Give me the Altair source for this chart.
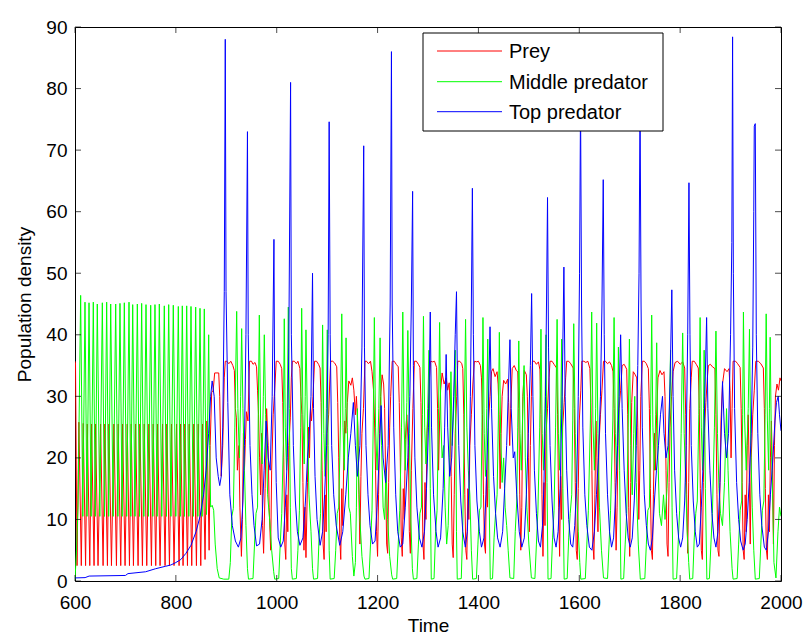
import altair as alt
import pandas as pd

# ---------------------------------------------------------------
# Three-species food chain: population densities versus time.
# Each list holds (time, density) vertices of one series.
# ---------------------------------------------------------------

SERIES_NAMES = ["Prey", "Middle predator", "Top predator"]
SERIES_COLORS = ["#ff0000", "#00ff00", "#0000ff"]
X_TICKS = [600, 800, 1000, 1200, 1400, 1600, 1800, 2000]
Y_TICKS = [0, 10, 20, 30, 40, 50, 60, 70, 80, 90]

prey_early = [
    (600, 35.7), (601, 35.5), (604, 2.5), (607.7, 25.8), (612.5, 2.5), (616.3, 25.6),
    (621, 2.5), (624.3, 25.5), (629.3, 2.5), (632.8, 25.5), (637.8, 2.5), (640.7, 25.5),
    (645.7, 2.5), (650.7, 25.5), (655.7, 2.5), (659.3, 25.5), (664.3, 2.5), (667.3, 25.5),
    (672.3, 2.5), (677.2, 25.5), (682.2, 2.5), (685.7, 25.5), (690.7, 2.5), (694.3, 25.5),
    (699.3, 2.5), (703.6, 25.5), (708.0, 2.5), (711.5, 25.5), (715.9, 2.5), (720.1, 25.5),
    (725.1, 2.5), (728.7, 25.5), (733.7, 2.5), (737.3, 25.5), (742.3, 2.5), (746.6, 25.5),
    (751.6, 2.5), (755.1, 25.5), (760.1, 2.5), (763.7, 25.5), (768.7, 2.5), (773.6, 25.5),
    (778.6, 2.5), (782.3, 25.5), (787.3, 2.5), (791.4, 25.5), (796.4, 2.5), (801.4, 25.5),
    (806.4, 2.5), (809.3, 25.5), (814.3, 2.5), (818.0, 25.5), (823.0, 2.5), (826.5, 25.5),
    (831.5, 2.5), (835.8, 25.5), (840.8, 2.5), (844.4, 25.5), (849.4, 2.5), (852.9, 25.5),
    (857.9, 3.5), (861.6, 26.0), (866, 5.0),
]

prey_late = [
    (868, 22), (871, 30.6), (874, 31.0), (877, 33.8), (885, 33.8), (887, 30), (890, 17),
    (893, 22), (896, 33), (898, 35.7),
    (901, 35.7), (905, 35.3), (909, 35.7), (913, 35.0), (916, 34.2), (918, 28), (920, 26.5),
    (922, 18), (925, 22), (927, 12), (930, 4), (932, 10), (934, 24), (936, 18), (938, 23),
    (940, 27.5), (943, 26), (946, 35.7),
    (950, 35.7), (953, 35.2), (957, 35.5), (960, 34.8), (962, 31), (964, 27), (966, 20),
    (968, 14), (970, 24), (972, 9), (974, 4.5), (977, 15), (980, 28), (983, 22), (985, 12),
    (988, 5), (990, 18), (993, 27), (996, 31), (999, 35.7),
    (1003, 35.7), (1007, 35.2), (1010, 34.5), (1012, 29), (1014, 20), (1016, 6), (1018, 3.5),
    (1020, 14), (1022, 8), (1024, 22), (1027, 26.5), (1029, 33), (1031, 35.7),
    (1035, 35.7), (1039, 35.3), (1042, 35.7), (1046, 34.5), (1048, 30), (1050, 27), (1052, 16),
    (1054, 5), (1056, 12), (1058, 3.8), (1061, 16), (1063, 25), (1065, 20), (1067, 28),
    (1069, 26), (1072, 30), (1075, 35.7),
    (1079, 35.7), (1083, 35.2), (1086, 34.6), (1088, 29), (1090, 18), (1092, 6), (1094, 3.5),
    (1096, 14), (1098, 8), (1100, 24), (1103, 27), (1105, 32), (1107, 35.7),
    (1111, 35.7), (1115, 35.4), (1119, 34.8), (1121, 29), (1123, 20), (1125, 7), (1127, 3.5),
    (1129, 15), (1131, 9), (1133, 20), (1135, 26), (1137, 24), (1140, 29), (1143, 32.5),
    (1147, 31.8), (1150, 33), (1153, 31), (1156, 27), (1158, 30), (1161, 25), (1163, 14),
    (1165, 6), (1167, 17), (1169, 24), (1172, 28), (1175, 35.7),
    (1178, 35.7), (1182, 35.3), (1186, 35.7), (1189, 34), (1192, 31), (1194, 26), (1196, 18),
    (1198, 8), (1200, 4), (1202, 14), (1204, 24), (1206, 30), (1209, 33.5), (1212, 32),
    (1214, 28), (1216, 17), (1218, 6), (1220, 4.5), (1222, 16), (1224, 25), (1226, 30),
    (1229, 35.7),
    (1233, 35.7), (1237, 35.2), (1241, 34.8), (1243, 29), (1245, 20), (1247, 7), (1249, 4),
    (1251, 15), (1253, 10), (1255, 23), (1258, 27), (1261, 22), (1263, 8), (1265, 4.5),
    (1267, 18), (1270, 28), (1273, 35.7),
    (1277, 35.7), (1281, 35.2), (1284, 34.7), (1286, 29), (1288, 18), (1290, 6), (1292, 3.5),
    (1294, 16), (1296, 10), (1298, 24), (1301, 28), (1303, 33), (1305, 35.7),
    (1309, 35.6), (1313, 35.7), (1317, 34.7), (1319, 28), (1321, 18), (1323, 26), (1325, 31),
    (1328, 33.8), (1332, 32), (1336, 33), (1339, 31), (1342, 32.2), (1344, 28), (1346, 17),
    (1348, 6), (1350, 3.8), (1352, 14), (1354, 24), (1357, 30), (1359, 35.7),
    (1363, 35.7), (1367, 35.3), (1369, 34.5), (1371, 27), (1373, 14), (1375, 5), (1377, 3.5),
    (1379, 15), (1381, 10), (1383, 22), (1386, 27), (1389, 32), (1392, 35.7),
    (1396, 35.6), (1400, 35.7), (1404, 35.0), (1406, 33), (1408, 27), (1410, 14), (1412, 6),
    (1414, 4.5), (1416, 18), (1418, 12), (1420, 26), (1423, 30), (1426, 34),
    (1429, 34.5), (1433, 33.2), (1437, 34), (1439, 32), (1441, 27), (1443, 15), (1445, 24),
    (1447, 30), (1450, 32.6), (1454, 32), (1458, 32.8), (1460, 29), (1462, 22), (1464, 28),
    (1467, 34.5),
    (1471, 35), (1475, 34.2), (1478, 34), (1480, 28), (1482, 14), (1484, 5), (1486, 12),
    (1488, 30), (1491, 34.2), (1495, 33.5), (1497, 30), (1499, 20), (1501, 8), (1503, 22),
    (1505, 30), (1507, 35.7),
    (1511, 35.7), (1515, 35.2), (1519, 35.6), (1522, 34.3), (1524, 27), (1526, 14), (1528, 4),
    (1530, 16), (1532, 9), (1534, 24), (1537, 28), (1540, 33), (1542, 35.7),
    (1546, 35.7), (1550, 35.2), (1555, 34.6), (1557, 27), (1559, 12), (1561, 4), (1563, 17),
    (1565, 10), (1567, 25), (1570, 29), (1573, 33), (1575, 35.7),
    (1579, 35.7), (1583, 35.3), (1588, 34.6), (1590, 28), (1592, 16), (1594, 5), (1596, 3.5),
    (1598, 15), (1600, 26), (1603, 31), (1605, 35.7),
    (1609, 35.7), (1613, 35.5), (1617, 35.7), (1621, 34.5), (1623, 29), (1625, 18), (1627, 6),
    (1629, 3.5), (1631, 14), (1633, 26), (1635, 20), (1637, 8), (1639, 22), (1642, 27),
    (1645, 31), (1648, 35.7),
    (1652, 35.7), (1656, 35.3), (1660, 35.6), (1664, 35.0), (1667, 34), (1669, 28), (1671, 16),
    (1673, 5), (1675, 12), (1677, 24), (1679, 28), (1682, 31), (1685, 35),
    (1689, 35.2), (1694, 34.4), (1696, 27), (1698, 12), (1700, 4), (1702, 16), (1704, 29),
    (1707, 34), (1711, 33.5), (1714, 33), (1716, 25), (1718, 10), (1720, 18), (1722, 30),
    (1725, 35.7),
    (1729, 35.7), (1733, 35.3), (1737, 34.5), (1739, 28), (1741, 15), (1743, 5), (1745, 3.5),
    (1747, 14), (1749, 24), (1751, 18), (1753, 26), (1756, 33), (1760, 34.2), (1764, 33.5),
    (1768, 34), (1770, 30), (1772, 18), (1774, 6), (1776, 4), (1778, 16), (1780, 25),
    (1783, 30), (1786, 34), (1790, 35.5),
    (1795, 35.7), (1800, 35.2), (1805, 35.6), (1809, 34.6), (1811, 27), (1813, 14), (1815, 4.5),
    (1817, 16), (1819, 28), (1822, 33), (1824, 35.7),
    (1828, 35.7), (1832, 35.2), (1836, 34.6), (1838, 28), (1840, 15), (1842, 5), (1844, 3.5),
    (1846, 16), (1848, 24), (1851, 29), (1854, 33), (1856, 35),
    (1860, 35.2), (1864, 34.8), (1869, 34.5), (1871, 27), (1873, 14), (1875, 5), (1877, 4),
    (1879, 16), (1881, 26), (1884, 32), (1888, 34.5), (1893, 34), (1897, 34.5), (1899, 31),
    (1901, 20), (1903, 28), (1905, 35.7),
    (1910, 35.7), (1914, 35.3), (1919, 34.7), (1921, 28), (1923, 16), (1925, 5), (1927, 3.5),
    (1929, 14), (1931, 8), (1933, 22), (1935, 27), (1937, 18), (1939, 6), (1941, 20),
    (1944, 27), (1947, 31), (1950, 35.7),
    (1955, 35.7), (1960, 35.3), (1965, 34.6), (1967, 28), (1969, 15), (1971, 5), (1973, 3.5),
    (1975, 14), (1977, 8), (1979, 20), (1981, 26), (1983, 18), (1985, 6), (1987, 22),
    (1989, 30), (1992, 32), (1995, 31), (1998, 33), (2000, 32.5),
]

middle_early = [
    (600, 0.2), (603, 5), (606, 12), (611.2, 46.4), (615.5, 10.5), (619.8, 45.3),
    (623.8, 10.5), (627.8, 45.2), (632, 10.5), (636.3, 45.3), (640.2, 10.5), (644.2, 45.0),
    (649.2, 10.5), (654.2, 45.2), (658.5, 10.5), (662.8, 45.3), (666.8, 10.5), (670.8, 45.0),
    (675.7, 10.5), (680.7, 45.0), (685, 10.5), (689.2, 45.1), (693.5, 10.5), (697.8, 45.2),
    (702.5, 10.5), (707.1, 45.3), (710.7, 10.5), (714.4, 44.9), (719, 10.5), (723.6, 45.0),
    (727.9, 10.5), (732.2, 45.1), (736.5, 10.5), (740.8, 44.9), (745.4, 10.5), (750.1, 44.8),
    (754.3, 10.5), (758.6, 44.9), (762.9, 10.5), (767.2, 45.0), (772.1, 10.5), (777.1, 44.7),
    (781.4, 10.5), (785.8, 44.9), (790.3, 10.5), (794.9, 44.8), (799.9, 10.5), (804.9, 44.6),
    (808.8, 10.5), (812.8, 44.7), (817.1, 10.5), (821.5, 44.7), (825.7, 10.5), (830.0, 44.6),
    (834.6, 10.5), (839.3, 44.5), (843.6, 10.5), (847.9, 44.3), (852.1, 10.5), (856.4, 44.2),
    (860.7, 10.8), (865.1, 40.0),
]

middle_late = [
    (867, 22), (869, 12), (872, 12.3), (875, 11.5), (878, 6), (882, 2), (886, 0.5), (895, 0.3),
    (905, 0.3), (908, 3), (911, 10.5), (914, 11.8), (917, 25), (920.6, 43.8), (923, 28),
    (926, 20), (928.5, 30), (930.5, 41), (933, 28), (936, 18), (939, 9), (942, 2), (944, 0.3),
    (953, 0.4), (956, 6), (959, 11), (962, 12), (963.5, 28), (965.5, 43.2), (968, 26),
    (971, 19), (973.5, 30), (975.4, 40), (978, 27), (982, 14), (986, 10), (990, 5),
    (994, 1.5), (996, 0.3),
    (1004, 0.4), (1007, 6), (1010, 11), (1013, 22), (1015, 42.6), (1017, 25), (1019.5, 18),
    (1021.5, 32), (1023, 44.5), (1025, 28), (1027, 12), (1029, 2), (1031, 0.3),
    (1039, 0.4), (1042, 5), (1045, 11.5), (1047.5, 25), (1049.5, 44.3), (1052, 27),
    (1054.5, 19), (1056.5, 30), (1058, 40.8), (1061, 25), (1064, 14), (1068, 8), (1071, 2),
    (1073, 0.3),
    (1081, 0.4), (1084, 7), (1087, 11), (1089, 24), (1091, 41.6), (1093.5, 24), (1096, 17),
    (1098.5, 28), (1100.3, 40.8), (1102, 22), (1104, 5), (1106, 0.3),
    (1114, 0.4), (1117, 5), (1120, 11), (1123, 12), (1126.5, 26), (1129, 43.4), (1131.5, 25),
    (1134, 18), (1136, 28), (1137.5, 39.5), (1140, 25), (1143, 12), (1146, 11), (1150, 4),
    (1153, 0.8), (1156, 3), (1158, 12), (1160, 28), (1162, 18), (1165, 10), (1169, 4),
    (1173, 0.8), (1175, 0.3),
    (1183, 0.4), (1186, 6), (1189, 11.5), (1191.5, 26), (1193.6, 42.8), (1196, 25), (1199, 18),
    (1202.5, 28), (1205, 39.5), (1208, 22), (1211, 12), (1214, 10), (1217, 18), (1220, 10),
    (1224, 4), (1228, 1), (1230, 0.3),
    (1238, 0.4), (1241, 6), (1244, 11.5), (1247.5, 25), (1250, 43.7), (1252.5, 26), (1255, 18),
    (1258, 29), (1260, 40.7), (1263, 24), (1266, 10), (1269, 2), (1271, 0.3),
    (1278, 0.4), (1281, 6), (1284, 11), (1287, 12), (1289, 27), (1291, 43), (1293.5, 25),
    (1296, 19), (1299.5, 28), (1302, 37.5), (1304.5, 15), (1306.5, 0.3),
    (1312, 0.4), (1315, 8), (1318, 11.5), (1321, 28), (1323, 42), (1325.5, 26), (1328, 20),
    (1331, 22), (1334, 12), (1337, 6), (1340, 9), (1343, 20), (1345.5, 34), (1348, 22),
    (1351, 28), (1354, 37.5), (1356.5, 8), (1358, 0.3),
    (1366, 0.4), (1369, 9), (1372, 26), (1374.5, 42.5), (1377, 25), (1380, 18), (1383, 14),
    (1386, 5), (1388.5, 0.3),
    (1396, 0.4), (1399, 6), (1402, 11.5), (1405, 12), (1407, 25), (1409, 42.8), (1411.5, 24),
    (1414, 17), (1416.5, 28), (1418.5, 39.3), (1421, 15), (1423.5, 0.3),
    (1428, 0.4), (1431, 7), (1434, 11), (1437, 14), (1439.5, 26), (1441.5, 40.4), (1444, 24),
    (1447, 16), (1450, 20), (1453, 12), (1456, 9), (1459, 5), (1462.5, 0.5),
    (1470, 0.4), (1473, 8), (1476, 13), (1478, 25), (1480, 39), (1482.5, 24), (1485, 18),
    (1488, 28), (1490.5, 35), (1493, 20), (1496, 12), (1500, 6), (1505, 0.5),
    (1512, 0.4), (1515, 6), (1518, 11.5), (1521.5, 25), (1524, 40.9), (1526.5, 24), (1529, 18),
    (1532, 28), (1534, 40), (1536, 16), (1538, 0.3),
    (1544, 0.4), (1547, 7), (1550, 11.5), (1553, 25), (1556, 42.5), (1558.5, 24), (1561, 18),
    (1563.5, 28), (1565, 39.3), (1567.5, 15), (1570, 0.3),
    (1576, 0.4), (1579, 7), (1582, 11), (1585, 14), (1587, 26), (1589, 41.8), (1592, 24),
    (1595, 14), (1598, 8), (1601, 3), (1603, 0.3),
    (1612, 0.4), (1615, 6), (1618, 11.5), (1622, 26), (1624.6, 43.7), (1627, 26), (1630, 18),
    (1632.5, 28), (1634.5, 41.9), (1637, 24), (1640, 12), (1644, 5), (1648, 0.5),
    (1656, 0.4), (1659, 6), (1662, 11.5), (1666.5, 26), (1669, 42.8), (1671.5, 24), (1674, 18),
    (1676, 26), (1677.6, 38), (1680, 18), (1682.5, 0.3),
    (1688, 0.4), (1691, 6), (1694, 11), (1697, 25), (1699.4, 39.3), (1702, 22), (1705, 14),
    (1708, 24), (1710, 30), (1713, 16), (1717, 6), (1721, 0.3),
    (1730, 0.4), (1733, 6), (1736, 11.5), (1739, 12), (1741.5, 27), (1743.6, 43.2), (1746, 25),
    (1749, 18), (1751.5, 27), (1753.5, 38.7), (1756, 20), (1759, 11), (1763, 9), (1767, 14),
    (1770, 10), (1774, 15), (1778, 24), (1781, 37.5), (1784, 12), (1786, 0.3),
    (1793, 0.4), (1796, 6), (1799, 11.5), (1802, 24), (1805, 40.3), (1808, 24), (1811, 16),
    (1814, 8), (1817, 3), (1819, 0.3),
    (1825, 0.4), (1828, 7), (1831, 11), (1834, 13), (1837, 27), (1839.6, 42.8), (1842, 25),
    (1844.5, 18), (1846.5, 28), (1847.6, 37.5), (1850, 15), (1853, 0.3),
    (1858, 0.4), (1861, 6), (1864, 11), (1868, 25), (1871, 40.6), (1874, 24), (1877, 15),
    (1880, 11), (1884, 9), (1888, 16), (1892, 28), (1895, 18), (1899, 8), (1903, 2),
    (1905, 0.3),
    (1913, 0.4), (1916, 6), (1919, 11.5), (1922, 13), (1924, 27), (1925.5, 43.7), (1928, 26),
    (1931, 18), (1935, 28), (1937.5, 40.9), (1940, 22), (1943, 12), (1946, 5), (1949, 0.3),
    (1957, 0.4), (1960, 6), (1963, 11.5), (1966, 13), (1968.5, 27), (1970.6, 43.4), (1973, 26),
    (1975.5, 18), (1977, 28), (1978.5, 39.6), (1981, 22), (1984, 12), (1986, 3), (1990, 0.5),
    (1994, 8), (1997, 12), (2000, 10.5),
]

top_early = [
    (600, 0.5), (620, 0.55), (628, 0.8), (700, 0.9), (705, 1.2), (740, 1.5), (760, 2.0),
    (780, 2.4), (790, 2.6), (800, 3.0), (810, 3.5), (820, 4.5), (830, 5.8), (840, 8.0),
    (848, 10.5), (855, 14), (860, 18), (865, 24), (869, 30), (872, 32.5), (876, 30),
    (880, 20), (884, 17), (887, 15.5), (890, 17), (893, 25),
]

top_late = [
    (896, 47), (898, 88), (899.5, 47), (903, 29), (907, 14), (912, 9), (918, 6.5), (924, 5.5),
    (929, 7), (933, 13), (936, 22), (939, 40), (942, 73), (943.5, 40), (947, 22), (951, 14),
    (955, 9), (960, 5.7), (966, 6), (971, 10), (975, 18), (979, 26), (983, 20), (987, 18),
    (991, 30), (994.5, 55.5), (996, 30), (999, 16), (1003, 7), (1008, 5.5), (1013, 6.5),
    (1017, 12), (1021, 20), (1024, 38), (1027.5, 81), (1029, 40), (1033, 22), (1037, 13),
    (1041, 8), (1046, 5.8), (1052, 7), (1057, 13), (1061, 20), (1064, 23), (1068, 30),
    (1071, 50), (1073, 28), (1076, 17), (1080, 10), (1086, 5.8), (1091, 8), (1095, 14),
    (1099, 22), (1102, 40), (1104, 74.6), (1106, 40), (1109, 22), (1113, 14), (1118, 9),
    (1125, 5.8), (1131, 8), (1137, 14), (1142, 20), (1147, 24), (1152, 29), (1156, 22),
    (1160, 17), (1165, 22), (1169, 38), (1172.5, 70.7), (1174, 38), (1177, 22), (1181, 14),
    (1185, 9), (1190, 6), (1195, 6.5), (1199, 12), (1203, 20), (1207, 28.5), (1211, 20),
    (1216, 16), (1221, 22), (1225, 45), (1227.5, 86), (1229, 45), (1232, 25), (1236, 14),
    (1240, 8), (1245, 5.5), (1250, 6), (1255, 12), (1260, 20), (1264, 30), (1267, 45),
    (1269.5, 63.3), (1271, 35), (1274, 20), (1278, 12), (1283, 7), (1288, 5.5), (1293, 8),
    (1297, 15), (1301, 25), (1304.5, 43.7), (1307, 25), (1311, 14), (1316, 8), (1320, 5.5),
    (1325, 7), (1330, 15), (1333, 25), (1336, 36.8), (1339, 25), (1343, 17), (1347, 20),
    (1351, 30), (1354, 40), (1356.5, 47), (1358, 35), (1361, 22), (1365, 13), (1369, 8),
    (1374, 5.5), (1378, 8), (1381, 15), (1384, 30), (1386, 45), (1388, 63.8), (1390, 40),
    (1393, 22), (1397, 13), (1402, 8), (1406, 5.5), (1411, 7), (1415, 14), (1419, 25),
    (1423, 41.3), (1426, 28), (1430, 17), (1434, 11), (1438, 7), (1443, 5.5), (1448, 8),
    (1452, 15), (1456, 22), (1459, 30), (1462.5, 39.2), (1465, 28), (1469, 20), (1472, 21),
    (1476, 14), (1481, 8), (1486, 5.5), (1491, 7), (1495, 14), (1499, 24), (1503, 35),
    (1505.5, 46.7), (1508, 30), (1511, 18), (1515, 11), (1519, 6.5), (1523, 5.5), (1527, 9),
    (1530, 16), (1533, 30), (1535, 45), (1537, 62.3), (1539, 38), (1542, 22), (1546, 13),
    (1550, 7), (1554, 5.5), (1558, 8), (1562, 15), (1566, 30), (1569.5, 51), (1572, 30),
    (1575, 18), (1579, 10), (1583, 6), (1587, 5.5), (1591, 9), (1595, 16), (1598, 30),
    (1600.5, 50), (1602.5, 78), (1604.5, 45), (1607, 25), (1611, 14), (1615, 9), (1620, 5.5),
    (1625, 5), (1630, 8), (1634, 14), (1638, 20), (1642, 30), (1645, 45), (1647.5, 65.2),
    (1649.5, 40), (1652, 24), (1656, 14), (1660, 8), (1664, 5.5), (1668, 7), (1672, 14),
    (1676, 22), (1679, 30), (1682, 40), (1685, 28), (1689, 18), (1693, 11), (1697, 7),
    (1701, 5.5), (1705, 7), (1709, 13), (1713, 22), (1716, 35), (1718.5, 50), (1720.5, 78),
    (1722.5, 45), (1725, 25), (1729, 14), (1733, 9), (1737, 6), (1741, 5), (1745, 7),
    (1749, 13), (1753, 18), (1757, 22), (1761, 27), (1765, 30), (1768, 24), (1772, 20),
    (1776, 22), (1780, 32), (1783.5, 47.3), (1786, 30), (1789, 18), (1793, 11), (1797, 7),
    (1801, 5.5), (1805, 7), (1809, 13), (1812, 22), (1815, 40), (1817.5, 64.7), (1819.5, 40),
    (1822, 22), (1826, 13), (1830, 8), (1834, 5.5), (1838, 6), (1842, 12), (1846, 20),
    (1849, 30), (1852.5, 42.8), (1855, 28), (1859, 18), (1863, 11), (1867, 7), (1871, 5.5),
    (1875, 8), (1879, 16), (1884, 32.4), (1888, 24), (1892, 20), (1896, 24), (1900, 40),
    (1902.5, 55), (1904, 88.4), (1905.5, 50), (1908, 28), (1912, 16), (1916, 10), (1920, 6.5),
    (1925, 5), (1929, 6), (1933, 10), (1937, 16), (1941, 24), (1944, 38), (1946, 60),
    (1947, 73.9), (1949, 74.3), (1951, 40), (1954, 24), (1958, 14), (1962, 9), (1967, 5.5),
    (1971, 5), (1975, 8), (1979, 14), (1984, 20), (1988, 26), (1991, 29), (1994.5, 30),
    (1997, 27), (2000, 24.4),
]


def frame(*chunks):
    rows = [p for chunk in chunks for p in chunk]
    return pd.DataFrame(rows, columns=["time", "value"])


series_frames = [
    frame(prey_early, prey_late),
    frame(middle_early, middle_late),
    frame(top_early, top_late),
]

W, H = 706, 554
FONT = "Liberation Sans"
FS = 19

x_scale = alt.Scale(domain=[600, 2000], nice=False, zero=False)
y_scale = alt.Scale(domain=[0, 90], nice=False, zero=False)
x_axis = alt.Axis(title="Time", values=X_TICKS, format="d", grid=False, domain=False,
                  ticks=False, labelFlush=False, labelOverlap=False,
                  labelPadding=12, titlePadding=4)
y_axis = alt.Axis(title="Population density", values=Y_TICKS, format="d", grid=False,
                  domain=False, ticks=False, labelFlush=False, labelOverlap=False,
                  labelPadding=8, titlePadding=11)


def xenc(field):
    return alt.X(f"{field}:Q", scale=x_scale, axis=x_axis)


def yenc(field):
    return alt.Y(f"{field}:Q", scale=y_scale, axis=y_axis)


# the three series, drawn in order so the top predator lies on top
lines = [
    alt.Chart(df).mark_line(color=c, strokeWidth=1, clip=True).encode(
        x=xenc("time"), y=yenc("value"), order=alt.Order("time:Q"))
    for df, c in zip(series_frames, SERIES_COLORS)
]

# inward tick marks on all four sides of the box
xt = pd.DataFrame({"t": X_TICKS})
yt = pd.DataFrame({"v": Y_TICKS})
tick_style = dict(color="black", size=6, thickness=1)
ticks = [
    alt.Chart(xt).mark_tick(orient="vertical", **tick_style).encode(x=xenc("t"), y=alt.value(H - 3)),
    alt.Chart(xt).mark_tick(orient="vertical", **tick_style).encode(x=xenc("t"), y=alt.value(3)),
    alt.Chart(yt).mark_tick(orient="horizontal", **tick_style).encode(y=yenc("v"), x=alt.value(3)),
    alt.Chart(yt).mark_tick(orient="horizontal", **tick_style).encode(y=yenc("v"), x=alt.value(W - 3)),
]

# legend box in the upper part of the plot
one = pd.DataFrame({"k": [0]})
LX0, LX1, LY0, LY1 = 348, 588, 6, 104
ROWS = [24, 54.7, 84.7]
legend = [
    alt.Chart(one).mark_rect(fill="white", stroke="black", strokeWidth=1).encode(
        x=alt.value(LX0), x2=alt.value(LX1), y=alt.value(LY0), y2=alt.value(LY1))
]
for name, color, ry in zip(SERIES_NAMES, SERIES_COLORS, ROWS):
    legend.append(
        alt.Chart(one).mark_rule(color=color, strokeWidth=1).encode(
            x=alt.value(362), x2=alt.value(427), y=alt.value(ry)))
    legend.append(
        alt.Chart(one).mark_text(text=name, align="left", baseline="middle", font=FONT,
                                 fontSize=20, color="black").encode(
            x=alt.value(434), y=alt.value(ry + 1)))

chart = alt.layer(*lines, *ticks, *legend).properties(
    width=W,
    height=H,
    autosize=alt.AutoSizeParams(type="none"),
    padding={"left": 75, "top": 27, "right": 25, "bottom": 56},
    background="white",
).configure_view(
    stroke="black", strokeWidth=1
).configure_axis(
    labelFont=FONT, titleFont=FONT, labelFontSize=FS, titleFontSize=FS,
    labelColor="black", titleColor="black", titleFontWeight="normal",
)

chart.save("out.html", embed_options={"renderer": "svg", "actions": False})
